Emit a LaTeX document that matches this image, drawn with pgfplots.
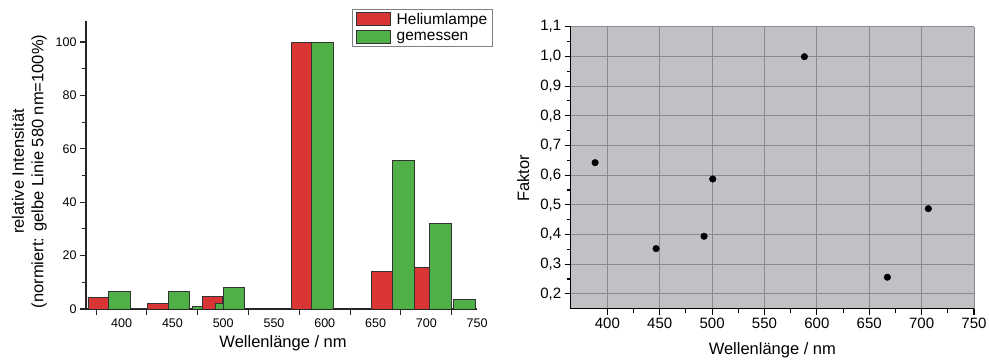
\documentclass[border=0pt]{standalone}
\usepackage{fontspec}
\setmainfont{Liberation Sans}
\usepackage{pgfplots}
\pgfplotsset{compat=1.18}
\definecolor{barred}{HTML}{DA3535}
\definecolor{bargreen}{HTML}{4FB047}
\definecolor{bgray}{HTML}{C0C1C5}
\definecolor{ggray}{HTML}{8A8A8E}
\pgfplotsset{
  mybar/.style={ybar, bar shift=0pt, draw=black!80, line width=0.8pt,
    legend image code/.code={\draw[##1] (0pt,-6.5pt) rectangle (34pt,6.5pt);}},
}
\begin{document}
\begin{tikzpicture}
\useasboundingbox (0,0) rectangle (989pt,363pt);
% ---------------- left: bar chart ----------------
\begin{axis}[
  at={(86pt,54pt)}, anchor=south west,
  scale only axis, width=391pt, height=288.3pt,
  xmin=365, xmax=750, ymin=0, ymax=108,
  axis x line*=bottom, axis y line*=left,
  axis line style={line width=1.2pt, black!85},
  tick align=outside,
  major tick length=6pt, minor tick length=4pt,
  every tick/.style={line width=1.1pt, black!85},
  xtick={375,425,...,725},
  xticklabels={400,450,500,550,600,650,700,750},
  xticklabel style={xshift=25.5pt},
  ytick={0,20,...,100},
  minor y tick num=1,
  /pgf/number format/assume math mode=true,
  ticklabel style={font=\fontsize{12.5}{14}\selectfont},
  xlabel={Wellenlänge / nm},
  ylabel={relative Intensität\\(normiert: gelbe Linie 580 nm=100\%)},
  label style={font=\fontsize{16.5}{19.5}\selectfont},
  x label style={at={(axis description cs:0.504,-0.118)}, anchor=center},
  y label style={at={(axis description cs:-0.145,0.477)}, anchor=center, align=center},
  legend style={at={(axis description cs:1.04,1.042)}, anchor=north east,
    draw=gray, line width=0.9pt, font=\fontsize{15.5}{17}\selectfont,
    inner xsep=3pt, inner ysep=3pt, row sep=3pt, legend cell align=left,
    nodes={inner ysep=1pt},
    /tikz/every odd column/.append style={column sep=4pt}},
]
% small green bars underneath
\addplot[mybar, fill=bargreen, bar width=15, forget plot] coordinates {(416.5,0.3)};
\addplot[mybar, fill=bargreen, bar width=21.5, forget plot] coordinates {(481,0.9)};
% red bars (Heliumlampe)
\addplot[mybar, fill=barred, bar width=20.5] coordinates {
  (377.2,4.4) (435.5,2.1) (489.5,4.8) (577.3,100) (656.3,14.2)};
\addlegendentry{Heliumlampe}
\addplot[mybar, fill=barred, bar width=15.4, forget plot] coordinates {(695.9,15.7)};
% green bars (gemessen)
\addplot[mybar, fill=bargreen, bar width=21.4] coordinates {
  (398.2,6.7) (456.5,6.5) (510.7,8.1) (598,100) (677.4,55.5) (714.3,32) (737.9,3.7)};
\addlegendentry{gemessen}
\addplot[mybar, fill=bargreen, bar width=8, forget plot] coordinates {(496,2.1)};
\end{axis}
% ---------------- right: factor scatter ----------------
\begin{axis}[
  at={(570.7pt,54.3pt)}, anchor=south west,
  scale only axis, width=403.3pt, height=282pt,
  xmin=365, xmax=750, ymin=0.15, ymax=1.1,
  axis background/.style={fill=bgray},
  axis x line*=bottom, axis y line*=left,
  axis line style={line width=1.2pt, black},
  tick align=outside,
  major tick length=6pt, minor tick length=4pt,
  every tick/.style={line width=1.1pt, black},
  xtick={400,450,...,750},
  ytick={0.2,0.3,0.4,0.5,0.6,0.7,0.8,0.9,1.0,1.1},
  minor x tick num=1, minor y tick num=1,
  grid=major,
  major grid style={ggray, line width=1pt},
  /pgf/number format/assume math mode=true,
  yticklabel style={/pgf/number format/.cd, fixed, fixed zerofill, precision=1, use comma},
  ticklabel style={font=\fontsize{15}{17}\selectfont},
  xlabel={Wellenlänge / nm},
  ylabel={Faktor},
  label style={font=\fontsize{16.5}{19.5}\selectfont},
  x label style={at={(axis description cs:0.5,-0.146)}, anchor=center},
  y label style={at={(axis description cs:-0.118,0.463)}, anchor=center},
]
\addplot[only marks, mark=*, mark size=3.3pt, black] coordinates {
  (388.3,0.642) (446.5,0.3525) (492.3,0.394) (500.6,0.587)
  (588.1,0.999) (667.3,0.256) (706.4,0.487)};
\end{axis}
\end{tikzpicture}
\end{document}
